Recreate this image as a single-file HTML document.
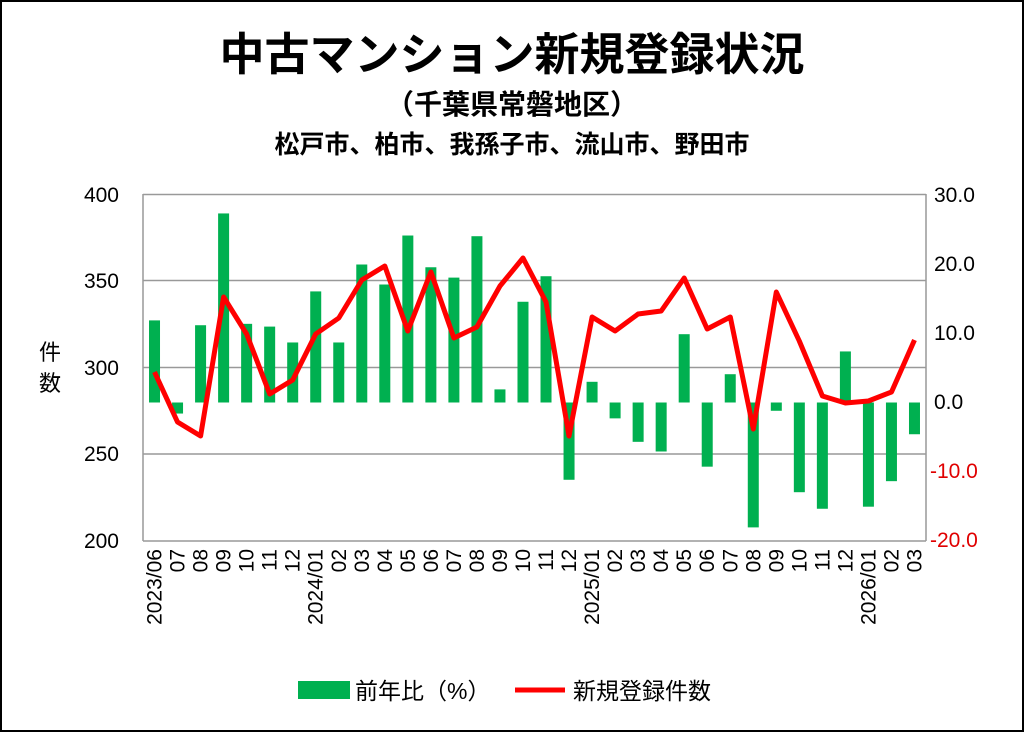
<!DOCTYPE html>
<html><head><meta charset="utf-8"><style>
body{margin:0;background:#fff}
svg{display:block}
text{font-family:"Liberation Sans","Noto Sans CJK JP",sans-serif}
</style></head><body>
<svg width="1024" height="732" viewBox="0 0 1024 732" xmlns="http://www.w3.org/2000/svg">
<rect x="1" y="1" width="1022" height="730" fill="#fff" stroke="#000" stroke-width="2"/>
<text x="512" y="70" text-anchor="middle" font-size="45" font-weight="bold" font-family="Noto Sans CJK JP,sans-serif">中古マンション新規登録状況</text>
<text x="512" y="114" text-anchor="middle" font-size="28" font-weight="bold" font-family="Noto Sans CJK JP,sans-serif">（千葉県常磐地区）</text>
<text x="512" y="153" text-anchor="middle" font-size="25" font-weight="bold" font-family="Noto Sans CJK JP,sans-serif">松戸市、柏市、我孫子市、流山市、野田市</text>
<g stroke="#999" stroke-width="1.5">
<line x1="143" y1="194.5" x2="926" y2="194.5"/>
<line x1="143" y1="280.5" x2="926" y2="280.5"/>
<line x1="143" y1="367.5" x2="926" y2="367.5"/>
<line x1="143" y1="454" x2="926" y2="454"/>
<line x1="143" y1="541" x2="926" y2="541"/>
<line x1="143" y1="194" x2="143" y2="541"/>
<line x1="926" y1="194" x2="926" y2="541"/>
</g>
<g font-size="21" text-anchor="end" fill="#000">
<text x="119" y="202">400</text><text x="119" y="288">350</text><text x="119" y="375">300</text><text x="119" y="461">250</text><text x="119" y="548">200</text>
</g>
<g font-size="21" text-anchor="start" fill="#000">
<text x="934" y="202">30.0</text><text x="934" y="271">20.0</text><text x="934" y="340">10.0</text><text x="934" y="409">0.0</text>
</g>
<g font-size="21" text-anchor="start" fill="#e00000">
<text x="930" y="478">-10.0</text><text x="930" y="547">-20.0</text>
</g>
<text x="50" y="360" text-anchor="middle" font-size="22" font-family="Noto Sans CJK JP,sans-serif">件</text>
<text x="50" y="391" text-anchor="middle" font-size="22" font-family="Noto Sans CJK JP,sans-serif">数</text>
<g id="bars" fill="#00b050"></g>
<polyline id="line" fill="none" stroke="#ff0000" stroke-width="5" stroke-linejoin="round"/>
<g id="xl" font-size="21"></g>
<rect x="298" y="681" width="52" height="18" fill="#00b050"/>
<text x="355" y="699" font-size="23" font-family="Noto Sans CJK JP,sans-serif">前年比（%）</text>
<line x1="515" y1="690" x2="565" y2="690" stroke="#ff0000" stroke-width="5"/>
<text x="573" y="699" font-size="23" font-family="Noto Sans CJK JP,sans-serif">新規登録件数</text>
</svg>
<script>
var b=[11.9,-1.6,11.2,27.4,11.4,11,8.7,16.1,8.7,20,17.1,24.2,19.6,18.1,24.1,1.9,14.6,18.3,-11.2,3,-2.3,-5.7,-7.1,9.9,-9.3,4.1,-18.1,-1.2,-13,-15.4,7.4,-15.1,-11.4,-4.6];
var l=[372,422,436,297,334,394,380,334,318,280,266,331,272,338,327,286,258,302,436,317,331,314,311,278,329,317,429,292,341,396,403,401,392,340];
var lab=["2023/06","07","08","09","10","11","12","2024/01","02","03","04","05","06","07","08","09","10","11","12","2025/01","02","03","04","05","06","07","08","09","10","11","12","2026/01","02","03"];
var ns="http://www.w3.org/2000/svg",g=document.getElementById("bars"),xl=document.getElementById("xl"),pts=[];
var w=783/34;
for(var i=0;i<34;i++){var cx=143+w*(i+0.5);
var y=402.5-b[i]*6.9,r=document.createElementNS(ns,"rect");
r.setAttribute("x",cx-5.5);r.setAttribute("width",11);
r.setAttribute("y",Math.min(y,402.5));r.setAttribute("height",Math.abs(402.5-y));g.appendChild(r);
pts.push(cx.toFixed(1)+","+l[i]);
var t=document.createElementNS(ns,"text");t.setAttribute("transform","translate("+(cx+7)+",549) rotate(-90)");
t.setAttribute("text-anchor","end");t.textContent=lab[i];xl.appendChild(t);}
document.getElementById("line").setAttribute("points",pts.join(" "));
</script>
</body></html>
